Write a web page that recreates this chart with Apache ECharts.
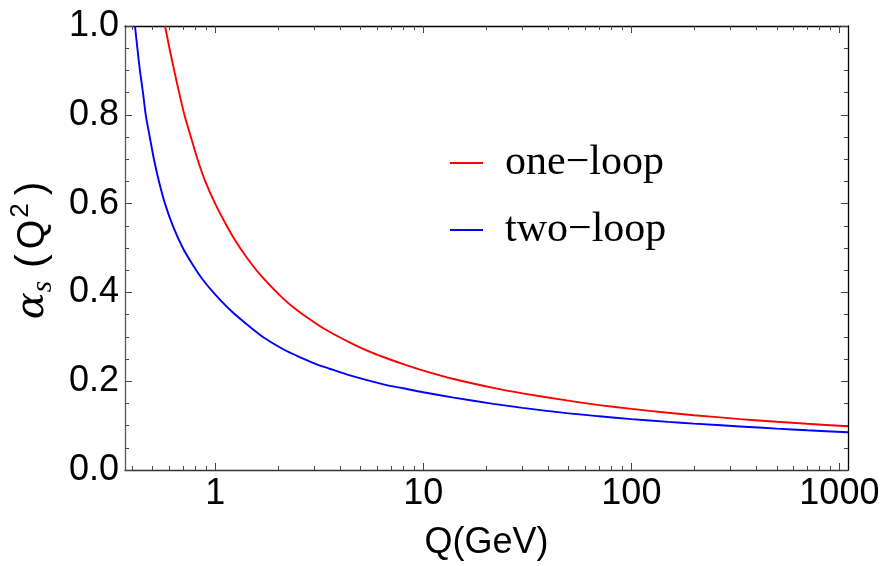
<!DOCTYPE html>
<html>
<head>
<meta charset="utf-8">
<script src="https://cdn.jsdelivr.net/npm/echarts@6/dist/echarts.min.js"></script>
<style>
  html, body { margin: 0; padding: 0; background: #fff; }
  #chart { width: 883px; height: 566px; }
</style>
</head>
<body>
<div id="chart"></div>
<script>
// ---- data ----
const oneLoopQ = [0.573, 0.602, 0.634, 0.670, 0.710, 0.763, 0.821, 0.895, 0.998, 1.134, 1.2, 1.316, 1.496, 1.7, 2.12, 2.5, 3.07, 3.5, 4.44, 5.3, 6.42, 8, 10.0, 14, 21.7, 30, 48.9, 70, 100, 150, 200, 333, 500, 700, 1100];
const oneLoopA = [1.0, 0.95, 0.90, 0.85, 0.80, 0.75, 0.70, 0.65, 0.60, 0.55, 0.530, 0.50, 0.4635, 0.432, 0.386, 0.358, 0.329, 0.3125, 0.287, 0.270, 0.2545, 0.2385, 0.224, 0.205, 0.185, 0.1727, 0.1567, 0.1462, 0.1376, 0.1289, 0.1234, 0.1147, 0.1086, 0.1041, 0.0985];

const twoLoopQ = [0.411, 0.422, 0.434, 0.449, 0.463, 0.484, 0.507, 0.536, 0.573, 0.625, 0.698, 0.776, 0.871, 1.0, 1.2, 1.47, 1.7, 2.12, 2.5, 3.07, 3.5, 4.44, 5.3, 6.42, 8, 10.0, 14, 21.7, 30, 48.9, 70, 100, 150, 200, 333, 500, 700, 1100];
const twoLoopA = [1.0, 0.95, 0.90, 0.85, 0.80, 0.75, 0.70, 0.65, 0.60, 0.55, 0.50, 0.4635, 0.4285, 0.395, 0.357, 0.322, 0.299, 0.272, 0.256, 0.238, 0.229, 0.213, 0.203, 0.193, 0.184, 0.175, 0.163, 0.149, 0.140, 0.128, 0.121, 0.1145, 0.1085, 0.1045, 0.098, 0.0932, 0.0895, 0.085];

const seriesNames = ['one\u2212loop', 'two\u2212loop'];
const xMajorTicks = [1, 10, 100, 1000];
const xMinorTicks = [0.4, 0.5, 0.6, 0.7, 0.8, 0.9, 2, 3, 4, 5, 6, 7, 8, 9, 20, 30, 40, 50, 60, 70, 80, 90, 200, 300, 400, 500, 600, 700, 800, 900];
const xRange = [0.368, 1100];
const yRange = [0, 1];
const yStep = 0.2;

// ---- chart ----
const chart = echarts.init(document.getElementById('chart'), null, { renderer: 'canvas' });
const FONT = 'Liberation Sans, Arial, sans-serif';

function logAxis(opts) {
  return Object.assign({
    type: 'log', logBase: 10, min: xRange[0], max: xRange[1],
    splitLine: { show: false },
    axisLine: { show: true, lineStyle: { color: '#333', width: 1.3 } },
    axisLabel: { show: false },
    axisTick: { show: true, inside: true, length: 7, lineStyle: { color: '#444', width: 1 } }
  }, opts);
}

const option = {
  animation: false,
  backgroundColor: '#ffffff',
  grid: { left: 125, right: 35, top: 26, bottom: 93, containLabel: false },
  legend: {
    orient: 'vertical',
    left: 445, top: 137,
    itemWidth: 33, itemHeight: 2,
    itemGap: 25,
    icon: 'rect',
    data: seriesNames,
    textStyle: { fontFamily: 'Liberation Serif, Times New Roman, serif', fontSize: 42, color: '#000', lineHeight: 42, padding: [0, 0, 0, 17] }
  },
  xAxis: [
    logAxis({
      position: 'bottom',
      axisTick: { show: true, inside: true, length: 7, customValues: xMajorTicks, lineStyle: { color: '#444', width: 1 } },
      axisLabel: {
        show: true, customValues: xMajorTicks, margin: 6,
        fontFamily: FONT, fontSize: 36, color: '#000',
        formatter: v => String(Math.round(v))
      },
      name: 'Q(GeV)', nameLocation: 'middle', nameGap: 55,
      nameTextStyle: { fontFamily: FONT, fontSize: 36, color: '#000' }
    }),
    logAxis({
      position: 'bottom',
      axisLine: { show: false },
      axisTick: { show: true, inside: true, length: 4, customValues: xMinorTicks, lineStyle: { color: '#444', width: 1 } }
    }),
    logAxis({
      position: 'top',
      axisLine: { show: true, lineStyle: { color: '#000', width: 1.3 } },
      axisTick: { show: true, inside: true, length: 7, customValues: xMajorTicks, lineStyle: { color: '#444', width: 1 } }
    }),
    logAxis({
      position: 'top',
      axisLine: { show: false },
      axisTick: { show: true, inside: true, length: 4, customValues: xMinorTicks, lineStyle: { color: '#444', width: 1 } }
    })
  ],
  yAxis: [
    {
      type: 'value', position: 'left', min: yRange[0], max: yRange[1], interval: yStep,
      splitLine: { show: false },
      axisLine: { show: true, lineStyle: { color: '#555', width: 1.3 } },
      axisTick: { show: true, inside: true, length: 7, lineStyle: { color: '#444', width: 1 } },
      minorTick: { show: true, splitNumber: 4, length: 4, lineStyle: { color: '#444', width: 1 } },
      axisLabel: { margin: 6, fontFamily: FONT, fontSize: 36, color: '#000', formatter: v => v.toFixed(1) },
      name: '{a|\u03b1}{s|s}{n|(}{q|Q}{p|2}{n|)}',
      nameLocation: 'middle', nameGap: 66, nameRotate: 90,
      nameTextStyle: {
        rich: {
          a: { fontFamily: 'DejaVu Serif, serif', fontStyle: 'italic', fontSize: 40, color: '#000', lineHeight: 50, verticalAlign: 'middle' },
          s: { fontFamily: 'Liberation Serif, serif', fontStyle: 'italic', fontSize: 29, color: '#000', verticalAlign: 'bottom', lineHeight: 50, padding: [0, 8, 0, 0] },
          n: { fontFamily: FONT, fontSize: 41, color: '#000', lineHeight: 50, verticalAlign: 'middle', padding: [0, 5, 0, 5] },
          q: { fontFamily: FONT, fontSize: 38, color: '#000', lineHeight: 50, verticalAlign: 'middle' },
          p: { fontFamily: FONT, fontSize: 26, color: '#000', verticalAlign: 'top', lineHeight: 50, padding: [0, 3, 0, 2] }
        }
      }
    },
    {
      type: 'value', position: 'right', min: yRange[0], max: yRange[1], interval: yStep,
      splitLine: { show: false },
      axisLine: { show: true, lineStyle: { color: '#000', width: 1.3 } },
      axisTick: { show: true, inside: true, length: 7, lineStyle: { color: '#444', width: 1 } },
      minorTick: { show: true, splitNumber: 4, length: 4, lineStyle: { color: '#444', width: 1 } },
      axisLabel: { show: false }
    }
  ],
  series: [
    {
      name: seriesNames[0], type: 'line', xAxisIndex: 0, yAxisIndex: 0,
      data: oneLoopQ.map((q, i) => [q, oneLoopA[i]]),
      showSymbol: false, smooth: 0.25,
      lineStyle: { color: '#ff0000', width: 1.9 }, itemStyle: { color: '#ff0000' },
      clip: true
    },
    {
      name: seriesNames[1], type: 'line', xAxisIndex: 0, yAxisIndex: 0,
      data: twoLoopQ.map((q, i) => [q, twoLoopA[i]]),
      showSymbol: false, smooth: 0.25,
      lineStyle: { color: '#0000ff', width: 1.9 }, itemStyle: { color: '#0000ff' },
      clip: true
    }
  ]
};
chart.setOption(option);
</script>
</body>
</html>
